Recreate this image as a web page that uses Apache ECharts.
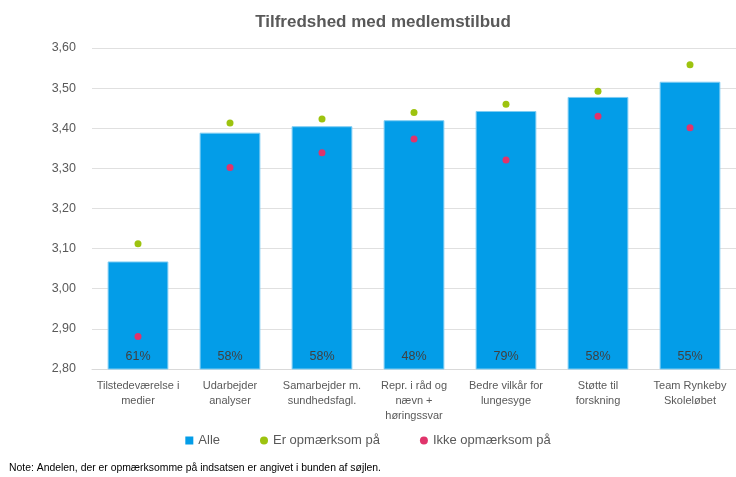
<!DOCTYPE html>
<html>
<head>
<meta charset="utf-8">
<script src="https://cdn.jsdelivr.net/npm/echarts@6/dist/echarts.min.js"></script>
<style>
  html, body { margin: 0; padding: 0; background: #fff; }
  #chart { width: 736px; height: 477px; }
</style>
</head>
<body>
<div id="chart"></div>
<script>
const categories = [
  'Tilstedeværelse i\nmedier',
  'Udarbejder\nanalyser',
  'Samarbejder m.\nsundhedsfagl.',
  'Repr. i råd og\nnævn +\nhøringssvar',
  'Bedre vilkår for\nlungesyge',
  'Støtte til\nforskning',
  'Team Rynkeby\nSkoleløbet'
];
const alle = [3.068, 3.389, 3.405, 3.420, 3.443, 3.478, 3.516];
const erOpmaerksom = [3.112, 3.413, 3.423, 3.439, 3.460, 3.492, 3.558];
const ikkeOpmaerksom = [2.881, 3.302, 3.339, 3.373, 3.321, 3.430, 3.401];
const andelOpmaerksom = ['61%', '58%', '58%', '48%', '79%', '58%', '55%'];

const font = 'Liberation Sans';
const textColor = '#595959';

const chart = echarts.init(document.getElementById('chart'));
chart.setOption({
  animation: false,
  textStyle: { fontFamily: font },
  title: {
    text: 'Tilfredshed med medlemstilbud',
    left: 378,
    textAlign: 'center',
    top: 9,
    textStyle: { fontFamily: font, fontSize: 17, fontWeight: 'bold', color: textColor }
  },
  grid: { left: 92, right: 0, top: 48, bottom: 108, containLabel: false },
  legend: {
    bottom: 25,
    left: 'center',
    itemGap: 40,
    itemWidth: 8,
    itemHeight: 8,
    itemStyle: { borderWidth: 0 },
    textStyle: { fontFamily: font, fontSize: 13, color: textColor },
    data: [
      { name: 'Alle', icon: 'rect' },
      { name: 'Er opmærksom på', icon: 'circle' },
      { name: 'Ikke opmærksom på', icon: 'circle' }
    ]
  },
  graphic: [{
    type: 'text',
    left: 9,
    top: 463,
    style: {
      text: 'Note: Andelen, der er opmærksomme på indsatsen er angivet i bunden af søjlen.',
      font: '10.4px "' + font + '"',
      fill: '#000'
    }
  }],
  xAxis: {
    type: 'category',
    data: categories,
    axisLine: { lineStyle: { color: '#d9d9d9' } },
    axisTick: { show: false },
    axisLabel: {
      interval: 0,
      color: textColor,
      fontSize: 11,
      lineHeight: 15,
      margin: 9
    }
  },
  yAxis: {
    type: 'value',
    min: 2.8,
    max: 3.6,
    interval: 0.1,
    axisLine: { show: false },
    axisTick: { show: false },
    splitLine: { lineStyle: { color: '#e0e0e0' } },
    axisLabel: {
      color: textColor,
      fontSize: 12.5,
      margin: 16,
      formatter: v => v.toFixed(2).replace('.', ',')
    }
  },
  series: [
    {
      name: 'Alle',
      type: 'bar',
      data: alle,
      barWidth: '66%',
      itemStyle: { color: '#039DE8', borderColor: '#7fcdf3', borderWidth: 1 },
      label: {
        show: true,
        position: 'insideBottom',
        distance: 6,
        fontSize: 12.5,
        color: '#404040',
        formatter: p => andelOpmaerksom[p.dataIndex]
      }
    },
    {
      name: 'Er opmærksom på',
      type: 'scatter',
      data: erOpmaerksom,
      symbolSize: 7,
      itemStyle: { color: '#9DC30F', opacity: 1 }
    },
    {
      name: 'Ikke opmærksom på',
      type: 'scatter',
      data: ikkeOpmaerksom,
      symbolSize: 7,
      itemStyle: { color: '#E0346B', opacity: 1 }
    }
  ]
});
</script>
</body>
</html>
